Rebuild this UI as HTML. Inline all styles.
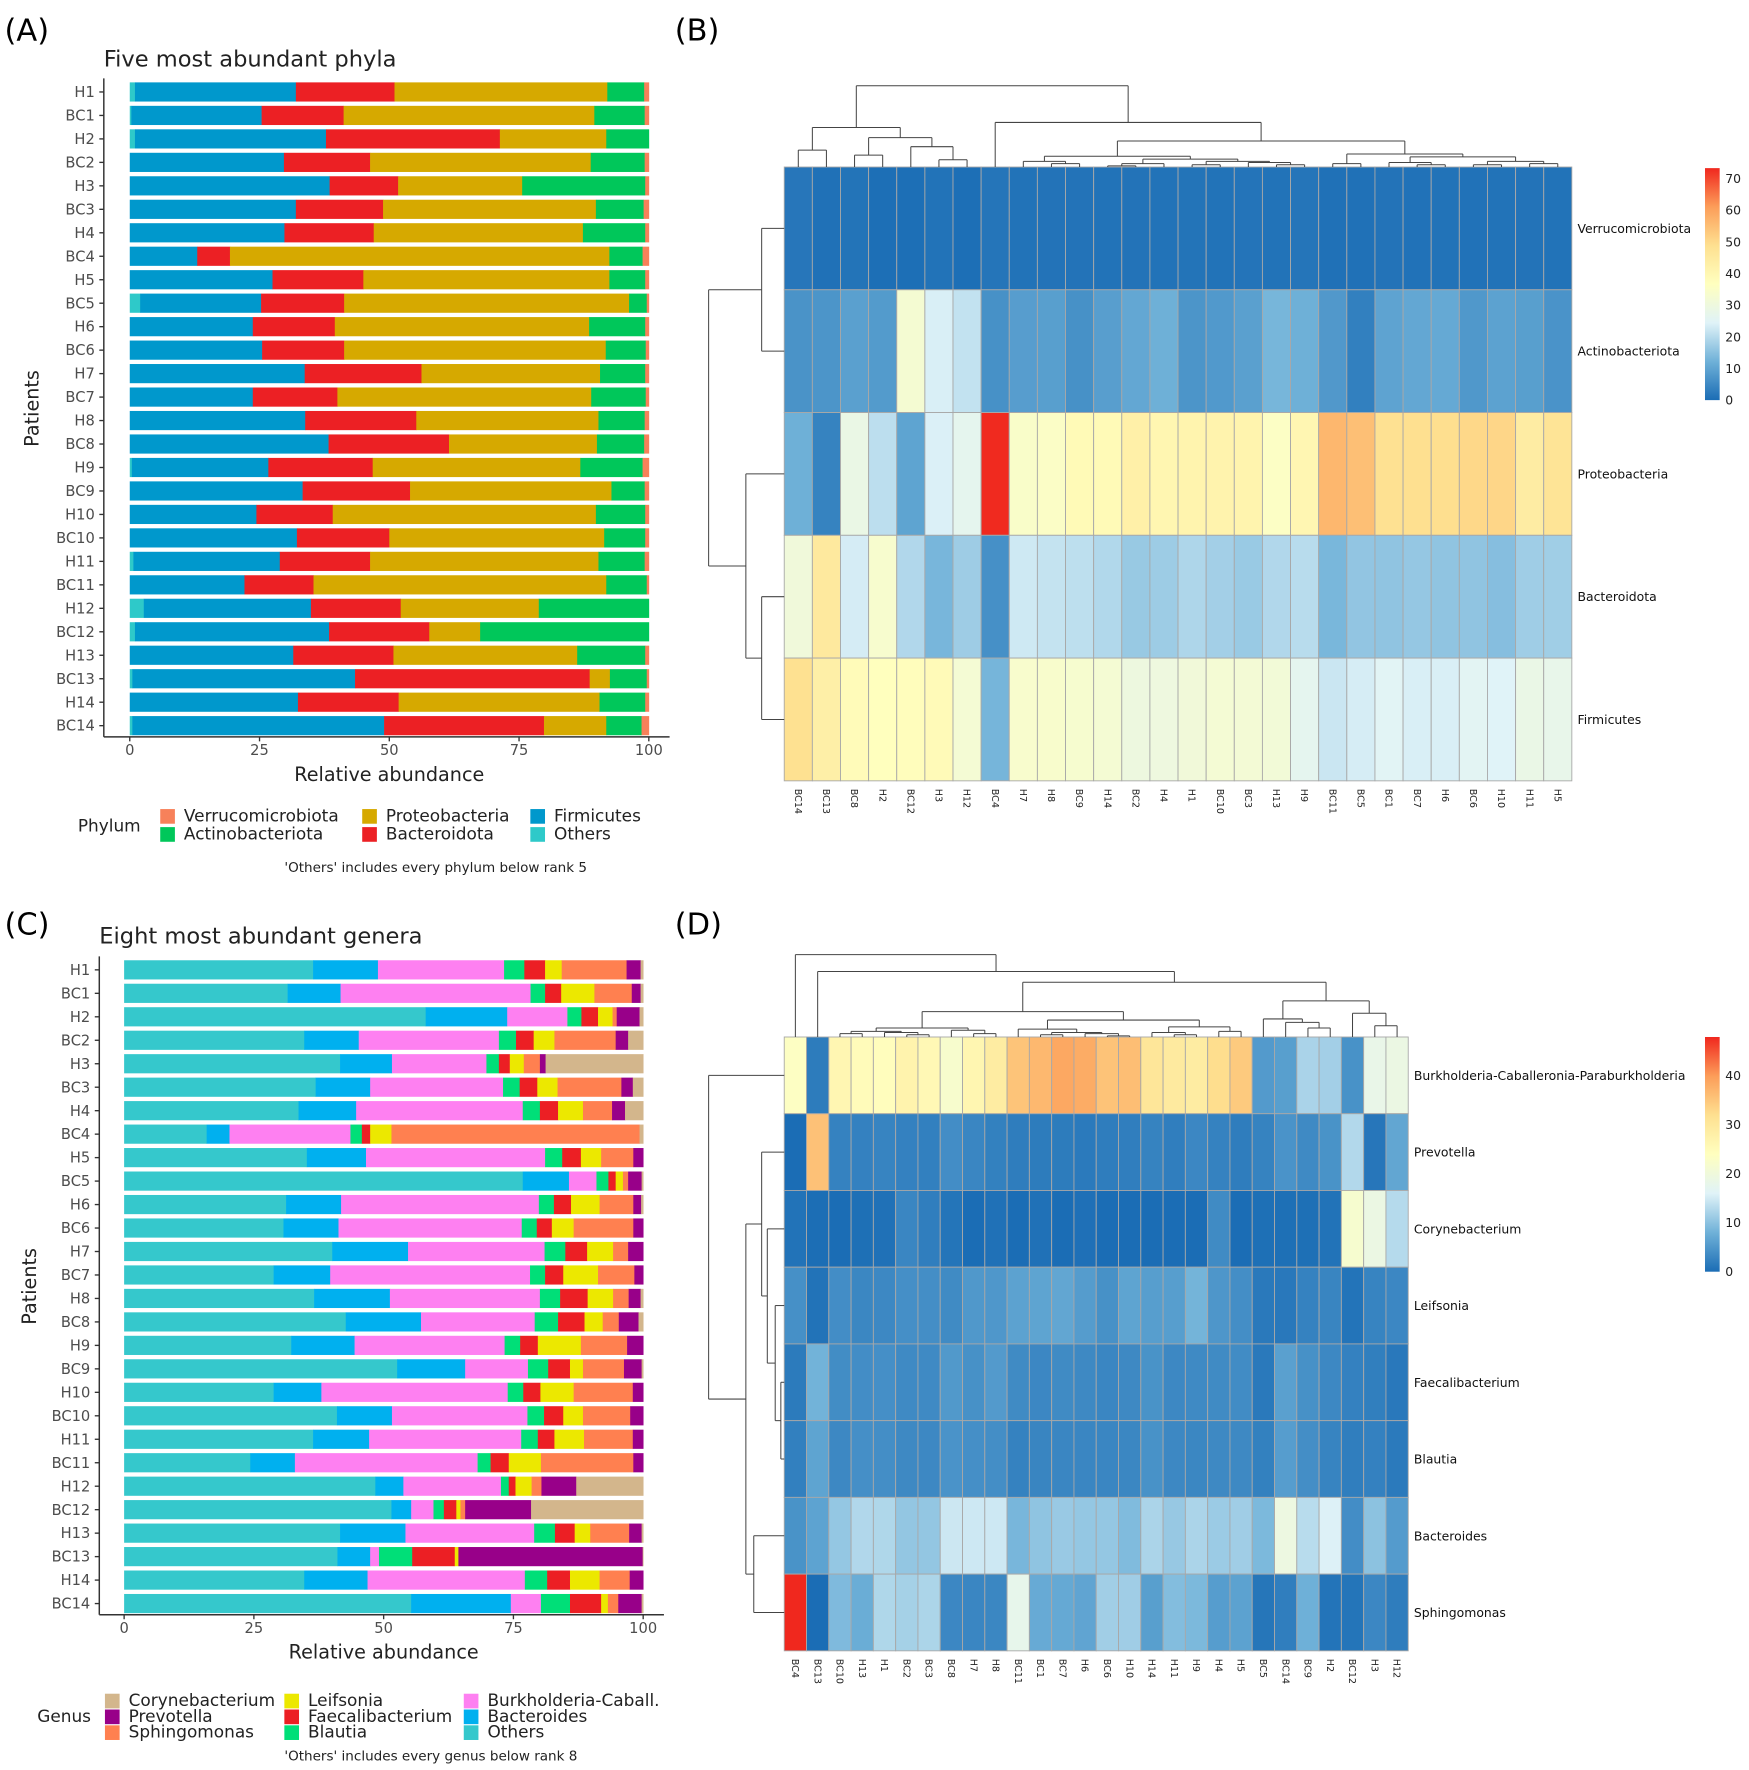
<!DOCTYPE html>
<html><head><meta charset="utf-8">
<style>
html,body{margin:0;padding:0;background:#fff;}
svg{display:block;}
text{font-family:"DejaVu Sans","Liberation Sans",sans-serif;}
</style></head>
<body>
<svg id="s" xmlns="http://www.w3.org/2000/svg" width="1749" height="1770" viewBox="0 0 1550 1568.6" preserveAspectRatio="none"></svg>
<script>
const S=document.getElementById('s');const NS='http://www.w3.org/2000/svg';
function el(t,a,txt){const e=document.createElementNS(NS,t);for(const k in a)e.setAttribute(k,a[k]);if(txt!==undefined)e.textContent=txt;S.appendChild(e);return e;}
function txt(x,y,s,size,opt){opt=opt||{};const a={x:x,y:y,'font-size':size,fill:opt.fill||'#222'};if(opt.anchor)a['text-anchor']=opt.anchor;if(opt.tr)a.transform=opt.tr;if(opt.ff)a['font-family']=opt.ff;return el('text',a,s);}
// labels
txt(4,36,'(A)',27,{fill:'#000',ff:'Liberation Sans, sans-serif'});
txt(598,36,'(B)',27,{fill:'#000',ff:'Liberation Sans, sans-serif'});
txt(4,828,'(C)',27,{fill:'#000',ff:'Liberation Sans, sans-serif'});
txt(598,828,'(D)',27,{fill:'#000',ff:'Liberation Sans, sans-serif'});
const names=['H1','BC1','H2','BC2','H3','BC3','H4','BC4','H5','BC5','H6','BC6','H7','BC7','H8','BC8','H9','BC9','H10','BC10','H11','BC11','H12','BC12','H13','BC13','H14','BC14'];
// Panel A data: cumulative ends
const A=[[1,32,51,92,99.1],[0.3,25.4,41.2,89.5,99.2],[1,37.8,71.3,91.8,100],[0,29.7,46.3,88.8,99.2],[0,38.5,51.7,75.6,99.3],[0,32,48.8,89.8,99],[0,29.8,47,87.3,99.3],[0,13,19.3,92.4,98.8],[0,27.5,45,92.4,99.3],[2,25.3,41.3,96.2,99.6],[0,23.7,39.5,88.5,99.3],[0,25.5,41.3,91.7,99.4],[0,33.7,56.2,90.6,99.3],[0,23.7,40,88.9,99.4],[0,33.8,55.2,90.3,99.2],[0,38.3,61.5,90,99.1],[0.4,26.7,46.8,86.8,98.8],[0,33.3,54,92.8,99.2],[0,24.4,39.1,89.8,99.3],[0,32.2,50,91.4,99.3],[0.7,28.9,46.3,90.3,99.2],[0,22.1,35.4,91.8,99.6],[2.7,34.9,52.2,78.8,100],[1,38.4,57.7,67.5,100],[0,31.5,50.8,86.2,99.3],[0.5,43.4,88.6,92.5,99.6],[0,32.4,51.8,90.5,99.3],[0.5,49,79.8,91.8,98.6]];
const cA=['#2ec9c9','#0098cc','#ec2024','#d6a900','#00c75a','#f7815a'];
function barPanel(data,cols,x0,xs,y0,dy,axX,axY,labX){
  data.forEach((d,i)=>{const y=y0+dy*i;let p=0;const ends=d.concat([100]);
    ends.forEach((e,k)=>{if(e>p)el('rect',{x:x0+p*xs,y:y-8.5,width:(e-p)*xs+0.3,height:17,fill:cols[k]});p=Math.max(p,e);});
    txt(labX,y+4.5,names[i],13,{anchor:'end',fill:'#4d4d4d'});
    el('line',{x1:axX-4,y1:y,x2:axX,y2:y,stroke:'#333','stroke-width':1.2});
  });
  el('line',{x1:axX,y1:y0-12,x2:axX,y2:axY,stroke:'#333','stroke-width':1.3});
  el('line',{x1:axX,y1:axY,x2:x0+104*xs,y2:axY,stroke:'#333','stroke-width':1.3});
  [0,25,50,75,100].forEach(v=>{const x=x0+v*xs;el('line',{x1:x,y1:axY,x2:x,y2:axY+4,stroke:'#333','stroke-width':1.2});txt(x,axY+16,String(v),13,{anchor:'middle',fill:'#4d4d4d'});});
}
barPanel(A,cA,115,4.6,81.5,20.8,92,653,84);
txt(92,59,'Five most abundant phyla',20,{fill:'#222'});
txt(34,362,'Patients',17,{anchor:'middle',tr:'rotate(-90 34 362)'});
txt(345,692,'Relative abundance',17,{anchor:'middle'});
txt(69,737,'Phylum',15);
[[142,723,'#f7815a','Verrucomicrobiota'],[142,739,'#00c75a','Actinobacteriota'],[321,723,'#d6a900','Proteobacteria'],[321,739,'#ec2024','Bacteroidota'],[470,723,'#0098cc','Firmicutes'],[470,739,'#2ec9c9','Others']].forEach(l=>{el('rect',{x:l[0],y:l[1]-6,width:13,height:13,fill:l[2]});txt(l[0]+21,l[1]+5,l[3],15);});
txt(252,773,"'Others' includes every phylum below rank 5",12);
// Panel C
const C=[[36.4,48.9,73.2,77.1,81.1,84.3,96.8,99.5],[31.5,41.7,78.3,81.1,84.2,90.6,97.8,99.5],[58.1,73.8,85.4,88.1,91.3,94.1,94.9,99.3],[34.7,45.2,72.2,75.5,78.9,82.9,94.7,97.1],[41.6,51.6,69.8,72.2,74.3,77,80.1,81.2],[36.9,47.4,73,76.2,79.6,83.5,95.8,98],[33.6,44.7,76.8,80.1,83.6,88.4,94,96.5],[15.9,20.3,43.6,45.8,47.4,51.5,99.3,99.3],[35.2,46.6,81.1,84.4,88,91.9,98.1,100],[76.8,85.7,91,93.3,94.7,96.1,97.1,99.7],[31.2,41.8,79.9,82.8,86.1,91.6,98.1,99.6],[30.7,41.3,76.6,79.5,82.4,86.6,98.1,100],[40.1,54.7,81,85,89.2,94.2,97.1,100],[28.8,39.7,78.2,81.1,84.6,91.3,98.3,100],[36.6,51.2,80.1,84,89.3,94.2,97.2,99.5],[42.7,57.2,79.1,83.6,88.7,92.2,95.3,99.1],[32.2,44.4,73.3,76.3,79.7,88,96.9,100],[52.6,65.7,77.8,81.7,85.9,88.4,96.3,99.7],[28.8,38,73.9,76.9,80.2,86.6,98,100],[41,51.6,77.7,80.9,84.6,88.4,97.5,100],[36.4,47.2,76.5,79.7,82.9,88.6,98,100],[24.3,32.9,68.1,70.6,74.1,80.3,98.1,100],[48.4,53.8,72.6,74.1,75.4,78.5,80.4,87.1],[51.5,55.3,59.6,61.6,64,64.8,65.7,78.4],[41.6,54.2,79,83,86.8,89.8,97.3,99.7],[41.1,47.4,49.1,55.5,63.7,64.4,64.4,99.9],[34.7,46.9,77.2,81.5,85.9,91.6,97.4,100],[55.3,74.5,80.3,85.9,91.9,93.2,95.2,99.7]];
const cC=['#35c8cc','#00b0ef','#fe80f1','#00df78','#ec1f24','#ece800','#ff8050','#980089','#d3b68c'];
barPanel(C,cC,110,4.6,859.5,20.8,88,1431,80);
txt(88,836,'Eight most abundant genera',20);
txt(32,1140,'Patients',17,{anchor:'middle',tr:'rotate(-90 32 1140)'});
txt(340,1470,'Relative abundance',17,{anchor:'middle'});
txt(33,1526,'Genus',15);
[[93,1507,'#d3b68c','Corynebacterium'],[93,1521,'#980089','Prevotella'],[93,1535,'#ff8050','Sphingomonas'],[252,1507,'#ece800','Leifsonia'],[252,1521,'#ec1f24','Faecalibacterium'],[252,1535,'#00df78','Blautia'],[411,1507,'#fe80f1','Burkholderia-Caball.'],[411,1521,'#00b0ef','Bacteroides'],[411,1535,'#35c8cc','Others']].forEach(l=>{el('rect',{x:l[0],y:l[1]-6,width:13,height:13,fill:l[2]});txt(l[0]+21,l[1]+5,l[3],15);});
txt(252,1560,"'Others' includes every genus below rank 8",12);
// colormap
const stops=['#1b6db5','#6fb1d8','#e0f3f8','#ffffbf','#fee090','#fc9d59','#f0281e'];
function hx(h){return [1,3,5].map(i=>parseInt(h.substr(i,2),16));}
function cmap(v,max){let t=Math.max(0,Math.min(1,v/max))*6;let i=Math.min(5,Math.floor(t));let f=t-i;const a=hx(stops[i]),b=hx(stops[i+1]);return 'rgb('+a.map((x,k)=>Math.round(x+(b[k]-x)*f)).join(',')+')';}
function heat(cols,rows,vals,x0,y0,w,h,max,fsRow){
  const cw=w/cols.length,rh=h/rows.length;
  rows.forEach((r,ri)=>{cols.forEach((c,ci)=>{el('rect',{x:x0+ci*cw,y:y0+ri*rh,width:cw,height:rh,fill:cmap(vals(c,ri),max),stroke:'#a8a8a8','stroke-width':0.8});});
    txt(x0+w+5,y0+rh*(ri+0.5)+4,r,fsRow,{fill:'#111',ff:'Liberation Sans, sans-serif'});});
  cols.forEach((c,ci)=>{const x=x0+cw*(ci+0.5)-3;txt(x,y0+h+7,c,8.5,{tr:'rotate(90 '+x+' '+(y0+h+7)+')',fill:'#222',ff:'Liberation Sans, sans-serif'});});
  return cw;
}
function dendTop(tree,x0,cw,leafY){
  function go(n){if(typeof n==='number')return {x:x0+cw*(n+0.5),y:leafY};
    const ch=n.c.map(go);const xs=ch.map(c=>c.x);
    ch.forEach(c=>el('line',{x1:c.x,y1:n.h,x2:c.x,y2:c.y,stroke:'#444','stroke-width':0.9}));
    el('line',{x1:Math.min(...xs),y1:n.h,x2:Math.max(...xs),y2:n.h,stroke:'#444','stroke-width':0.9});
    return {x:(Math.min(...xs)+Math.max(...xs))/2,y:n.h};}
  go(tree);
}
function dendLeft(tree,y0,rh,leafX){
  function go(n){if(typeof n==='number')return {y:y0+rh*(n+0.5),x:leafX};
    const ch=n.c.map(go);const ys=ch.map(c=>c.y);
    ch.forEach(c=>el('line',{x1:n.h,y1:c.y,x2:c.x,y2:c.y,stroke:'#444','stroke-width':0.9}));
    el('line',{x1:n.h,y1:Math.min(...ys),x2:n.h,y2:Math.max(...ys),stroke:'#444','stroke-width':0.9});
    return {y:(Math.min(...ys)+Math.max(...ys))/2,x:n.h};}
  go(tree);
}
function N(h,...c){return {h:h,c:c};}
function colorbar(x,yTop,yBot,max,ticks,pxPer,yZero){
  const g=el('defs',{});
  const lg=document.createElementNS(NS,'linearGradient');lg.setAttribute('id','g'+x+yTop);lg.setAttribute('x1','0');lg.setAttribute('y1','1');lg.setAttribute('x2','0');lg.setAttribute('y2','0');
  stops.forEach((s,i)=>{const st=document.createElementNS(NS,'stop');st.setAttribute('offset',i/6);st.setAttribute('stop-color',s);lg.appendChild(st);});g.appendChild(lg);
  el('rect',{x:x,y:yTop,width:13,height:yBot-yTop,fill:'url(#g'+x+yTop+')'});
  ticks.forEach(t=>txt(x+18,yZero-t*pxPer+4,String(t),11,{fill:'#222',ff:'Liberation Sans, sans-serif'}));
}
// Panel B
const idx=n=>names.indexOf(n);
const colsB=['BC14','BC13','BC8','H2','BC12','H3','H12','BC4','H7','H8','BC9','H14','BC2','H4','H1','BC10','BC3','H13','H9','BC11','BC5','BC1','BC7','H6','BC6','H10','H11','H5'];
const rowsB=['Verrucomicrobiota','Actinobacteriota','Proteobacteria','Bacteroidota','Firmicutes'];
function vB(c,r){const d=A[idx(c)];if(r===0)return 100-d[4]+0.3;if(r===1)return d[4]-d[3];if(r===2)return d[3]-d[2];if(r===3)return d[2]-d[1];return d[1]-d[0];}
const cwB=heat(colsB,rowsB,vB,695,148,698,544,73.3,11);
dendTop(N(76,N(113,N(133,0,1),N(122,N(137.5,2,3),N(130,4,N(141.6,5,6)))),N(108.5,7,N(125,N(138.5,N(143,8,N(145,9,10)),N(141,N(145,N(147,11,12),13),N(143,N(146,14,15),N(144,16,N(146,17,18))))),N(136.5,N(145,19,20),N(139,N(144,21,N(146,22,23)),N(143,N(146,24,25),N(145,26,27))))))),695,cwB,148);
dendLeft(N(628,N(675,0,1),N(661,2,N(675,3,4))),148,108.8,695);
colorbar(1511,149,354.6,73.3,[0,10,20,30,40,50,60,70],2.806,354.6);
// Panel D
const colsD=['BC4','BC13','BC10','H13','H1','BC2','BC3','BC8','H7','H8','BC11','BC1','BC7','H6','BC6','H10','H14','H11','H9','H4','H5','BC5','BC14','BC9','H2','BC12','H3','H12'];
const rowsD=['Burkholderia-Caballeronia-Paraburkholderia','Prevotella','Corynebacterium','Leifsonia','Faecalibacterium','Blautia','Bacteroides','Sphingomonas'];
function vD(c,r){const d=C[idx(c)];switch(r){case 0:return d[2]-d[1];case 1:return d[7]-d[6];case 2:return 100-d[7];case 3:return d[5]-d[4];case 4:return d[4]-d[3];case 5:return d[3]-d[2];case 6:return d[1]-d[0];default:return d[6]-d[5];}}
const cwD=heat(colsD,rowsD,vD,695,919,553,544,47.8,11);
dendTop(N(846,0,N(861,1,N(870.5,N(896.5,N(911,N(914,N(916,2,3),N(915,4,N(917,5,6))),N(913,7,N(916,8,9))),N(904,N(912,10,N(915,N(917,11,12),N(916,13,N(918,14,15)))),N(910,N(915,16,N(917,17,18)),N(914,19,20)))),N(887,N(903,21,N(906,22,N(911,23,24))),N(898,25,N(909,26,27)))))),695,cwD,919);
dendLeft(N(628,0,N(661,N(675,1,N(680,2,N(687,3,N(692,4,5)))),N(668,6,7))),919,68,695);
colorbar(1511,919,1127,47.8,[0,10,20,30,40],4.35,1127);
</script>
</body></html>
